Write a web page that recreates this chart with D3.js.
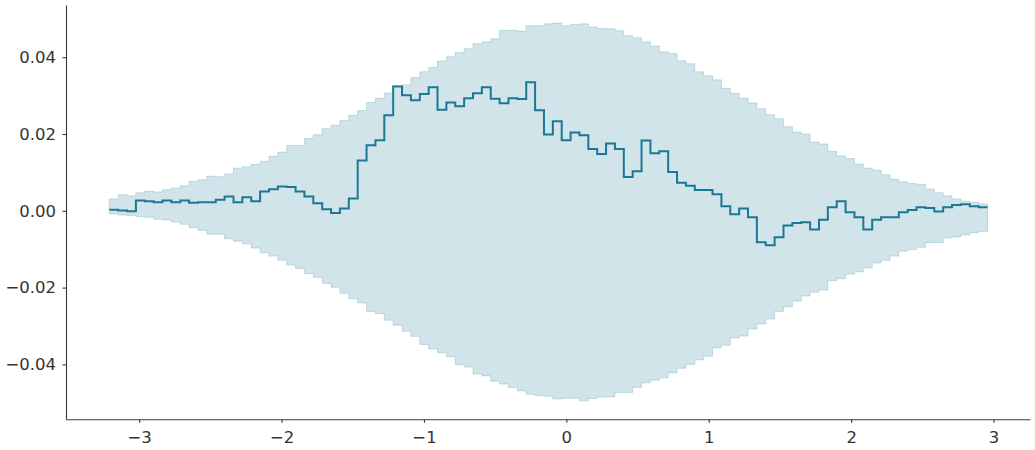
<!DOCTYPE html>
<html>
<head>
<meta charset="utf-8">
<script src="https://d3js.org/d3.v7.min.js"></script>
<style>
  body { margin: 0; background: #fff; }
  .axis text { font: 16.5px "DejaVu Sans", sans-serif; fill: #333; }
  .axis path, .axis line { stroke: #3a3a3a; stroke-width: 1.1; }
</style>
</head>
<body>
<svg width="1035" height="450"></svg>
<script>
// histogram-style bins: first edge and width
var binStart = -3.21, binWidth = 0.0623;

var meanVals = [
  0.0003, 0.0001, -0.0001, 0.0027, 0.0025, 0.0022, 0.0027, 0.0022, 0.0027, 0.0021,
  0.0022, 0.0022, 0.0029, 0.0037, 0.0022, 0.0035, 0.0025, 0.0050, 0.0056, 0.0063,
  0.0062, 0.0050, 0.0037, 0.0020, 0.0004, -0.0006, 0.0006, 0.0032, 0.0131, 0.0171,
  0.0184, 0.0249, 0.0324, 0.0301, 0.0288, 0.0304, 0.0322, 0.0263, 0.0282, 0.0272,
  0.0293, 0.0306, 0.0322, 0.0292, 0.0280, 0.0293, 0.0291, 0.0335, 0.0262, 0.0199,
  0.0233, 0.0184, 0.0204, 0.0197, 0.0161, 0.0148, 0.0175, 0.0161, 0.0088, 0.0103,
  0.0183, 0.0150, 0.0155, 0.0101, 0.0073, 0.0065, 0.0054, 0.0054, 0.0043, 0.0012,
  -0.0009, 0.0006, -0.0017, -0.0082, -0.0090, -0.0069, -0.0038, -0.0032, -0.0030, -0.0049,
  -0.0023, 0.0009, 0.0025, -0.0004, -0.0017, -0.0049, -0.0023, -0.0017, -0.0017, -0.0004,
  0.0002, 0.0009, 0.0007, -0.0002, 0.0009, 0.0015, 0.0017, 0.0012, 0.0009
];
var upperVals = [
  0.0031, 0.0042, 0.0039, 0.0047, 0.0051, 0.0049, 0.0055, 0.0059, 0.0065, 0.0077,
  0.0081, 0.0090, 0.0089, 0.0096, 0.0111, 0.0115, 0.0121, 0.0129, 0.0142, 0.0153,
  0.0170, 0.0170, 0.0188, 0.0198, 0.0214, 0.0223, 0.0235, 0.0249, 0.0261, 0.0282,
  0.0293, 0.0307, 0.0326, 0.0328, 0.0347, 0.0362, 0.0373, 0.0390, 0.0401, 0.0412,
  0.0422, 0.0435, 0.0440, 0.0448, 0.0470, 0.0470, 0.0468, 0.0482, 0.0482, 0.0487,
  0.0489, 0.0482, 0.0485, 0.0487, 0.0479, 0.0475, 0.0474, 0.0469, 0.0456, 0.0451,
  0.0440, 0.0429, 0.0414, 0.0410, 0.0391, 0.0383, 0.0362, 0.0352, 0.0341, 0.0319,
  0.0306, 0.0293, 0.0281, 0.0266, 0.0250, 0.0240, 0.0219, 0.0205, 0.0200, 0.0179,
  0.0174, 0.0155, 0.0143, 0.0136, 0.0122, 0.0111, 0.0106, 0.0094, 0.0082, 0.0076,
  0.0071, 0.0069, 0.0057, 0.0047, 0.0039, 0.0031, 0.0025, 0.0022, 0.0018
];
var lowerVals = [
  -0.0008, -0.0011, -0.0012, -0.0015, -0.0017, -0.0022, -0.0024, -0.0029, -0.0035, -0.0044,
  -0.0051, -0.0061, -0.0061, -0.0073, -0.0079, -0.0086, -0.0097, -0.0109, -0.0118, -0.0129,
  -0.0141, -0.0150, -0.0164, -0.0173, -0.0189, -0.0199, -0.0215, -0.0229, -0.0240, -0.0262,
  -0.0268, -0.0285, -0.0298, -0.0314, -0.0327, -0.0348, -0.0360, -0.0370, -0.0380, -0.0400,
  -0.0407, -0.0425, -0.0430, -0.0444, -0.0451, -0.0460, -0.0469, -0.0478, -0.0481, -0.0483,
  -0.0490, -0.0488, -0.0488, -0.0495, -0.0489, -0.0485, -0.0485, -0.0473, -0.0473, -0.0460,
  -0.0448, -0.0441, -0.0435, -0.0422, -0.0410, -0.0400, -0.0388, -0.0379, -0.0357, -0.0350,
  -0.0331, -0.0326, -0.0308, -0.0295, -0.0282, -0.0262, -0.0250, -0.0235, -0.0222, -0.0212,
  -0.0206, -0.0182, -0.0177, -0.0165, -0.0159, -0.0149, -0.0136, -0.0129, -0.0118, -0.0105,
  -0.0101, -0.0095, -0.0083, -0.0083, -0.0071, -0.0068, -0.0063, -0.0057, -0.0054
];
var xTicks = [-3, -2, -1, 0, 1, 2, 3];
var yTicks = [-0.04, -0.02, 0.00, 0.02, 0.04];

var svg = d3.select("svg"),
    margin = {top: 5, right: 5, bottom: 30.7, left: 66},
    width = +svg.attr("width") - margin.left - margin.right,
    height = +svg.attr("height") - margin.top - margin.bottom,
    g = svg.append("g").attr("transform", "translate(" + margin.left + "," + margin.top + ")");

var x = d3.scaleLinear().domain([-3.514, 3.256]).range([0, width]);
var y = d3.scaleLinear().domain([-0.0543, 0.0536]).range([height, 0]);

var color = "#1b7895";

// one point per bin edge; last edge repeats the final bin value
var pts = meanVals.map(function(v, i) {
  return {x: binStart + i * binWidth, m: v, lo: lowerVals[i], hi: upperVals[i]};
});
var last = pts[pts.length - 1];
pts.push({x: binStart + meanVals.length * binWidth, m: last.m, lo: last.lo, hi: last.hi});

var area = d3.area()
    .curve(d3.curveStepAfter)
    .x(function(d) { return x(d.x); })
    .y0(function(d) { return y(d.lo); })
    .y1(function(d) { return y(d.hi); });

var line = d3.line()
    .curve(d3.curveStepAfter)
    .x(function(d) { return x(d.x); })
    .y(function(d) { return y(d.m); });

g.append("path")
    .datum(pts)
    .attr("d", area)
    .attr("fill", color)
    .attr("fill-opacity", 0.2)
    .attr("stroke", color)
    .attr("stroke-opacity", 0.2)
    .attr("stroke-width", 1);

g.append("path")
    .datum(pts)
    .attr("d", line)
    .attr("fill", "none")
    .attr("stroke", color)
    .attr("stroke-width", 2);

g.append("g")
    .attr("class", "axis")
    .attr("transform", "translate(0," + height + ")")
    .call(d3.axisBottom(x).tickValues(xTicks).tickFormat(d3.format("d"))
      .tickSize(3.5).tickSizeOuter(0).tickPadding(8));

g.append("g")
    .attr("class", "axis")
    .call(d3.axisLeft(y).tickValues(yTicks).tickFormat(d3.format(".2f"))
      .tickSize(3.5).tickSizeOuter(0).tickPadding(6.5));
</script>
</body>
</html>
